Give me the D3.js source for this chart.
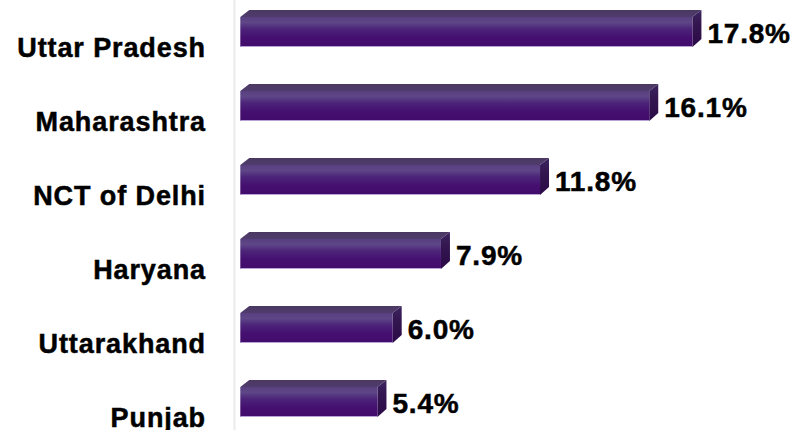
<!DOCTYPE html>
<html><head><meta charset="utf-8">
<script src="https://cdn.jsdelivr.net/npm/d3@7"></script>
<style>
html,body{margin:0;padding:0;background:#fff;}
svg{display:block;}
</style></head>
<body>
<svg id="chart" width="795" height="430"></svg>
<script>
const categories = ["Uttar Pradesh","Maharashtra","NCT of Delhi","Haryana","Uttarakhand","Punjab"];
const values = [17.8, 16.1, 11.8, 7.9, 6.0, 5.4];
const valueLabels = ["17.8%","16.1%","11.8%","7.9%","6.0%","5.4%"];

const svg = d3.select("#chart");
const W = 795, H = 430;
const dx = 9, dy = 7, frontH = 30;

const x = d3.scaleLinear().domain([0, 20]).range([240.3, 240.3 + 20*25.4]);
const y = d3.scaleBand().domain(categories).range([10, 10 + 74*categories.length]).paddingInner(0).paddingOuter(0);

const defs = svg.append("defs");
const gFront = defs.append("linearGradient").attr("id","gFront").attr("x1",0).attr("y1",0).attr("x2",0).attr("y2",1);
[[0,"#584080"],[0.18,"#5e4687"],[0.4,"#4c2479"],[0.7,"#440f70"],[1,"#420c6b"]].forEach(s=>gFront.append("stop").attr("offset",s[0]).attr("stop-color",s[1]));
const gTop = defs.append("linearGradient").attr("id","gTop").attr("x1",0).attr("y1",0).attr("x2",0).attr("y2",1);
[[0,"#4a3862"],[1,"#503c6c"]].forEach(s=>gTop.append("stop").attr("offset",s[0]).attr("stop-color",s[1]));
const gSide = defs.append("linearGradient").attr("id","gSide").attr("x1",0).attr("y1",0).attr("x2",0).attr("y2",1);
[[0,"#3c2660"],[0.4,"#33154f"],[1,"#2a0a47"]].forEach(s=>gSide.append("stop").attr("offset",s[0]).attr("stop-color",s[1]));

// faint axis line
svg.append("line").attr("x1",234.5).attr("x2",234.5).attr("y1",0).attr("y2",H)
  .attr("stroke","#ebebeb").attr("stroke-width",2);

const data = categories.map((c,i)=>({c, v:values[i], label:valueLabels[i]}));
const bars = svg.append("g").selectAll("g").data(data).join("g");

bars.each(function(d){
  const g = d3.select(this);
  const x0 = x(0), x1 = x(d.v);
  const yt = y(d.c);          // top of top face
  const yf = yt + dy;         // top of front face
  const yb = yf + frontH;     // bottom of front face
  g.append("path").attr("d",`M${x0},${yf}L${x0+dx},${yt}L${x1+dx},${yt}L${x1},${yf}Z`).attr("fill","url(#gTop)");
  g.append("path").attr("d",`M${x1},${yf}L${x1+dx},${yt}L${x1+dx},${yb-dy-1}L${x1},${yb}Z`).attr("fill","url(#gSide)");
  g.append("rect").attr("x",x0).attr("y",yf).attr("width",x1-x0).attr("height",frontH).attr("fill","url(#gFront)");
  g.append("line").attr("x1",x0).attr("x2",x1).attr("y1",yb-0.5).attr("y2",yb-0.5).attr("stroke","#b9a3d4").attr("stroke-width",1);
  g.append("text").attr("x",x1+15).attr("y",yf+25.5).text(d.label)
    .attr("font-family","'Liberation Sans', Arial, sans-serif").attr("font-weight","bold")
    .attr("font-size","28px").attr("letter-spacing","0.8px").attr("fill","#000")
    .attr("stroke","#000").attr("stroke-width",0.5);
  g.append("text").attr("x",206).attr("y",yt+47).attr("text-anchor","end").text(d.c)
    .attr("font-family","'Liberation Sans', Arial, sans-serif").attr("font-weight","bold")
    .attr("font-size","27px").attr("letter-spacing","0.9px").attr("fill","#000")
    .attr("stroke","#000").attr("stroke-width",0.5);
});
</script>
</body></html>
